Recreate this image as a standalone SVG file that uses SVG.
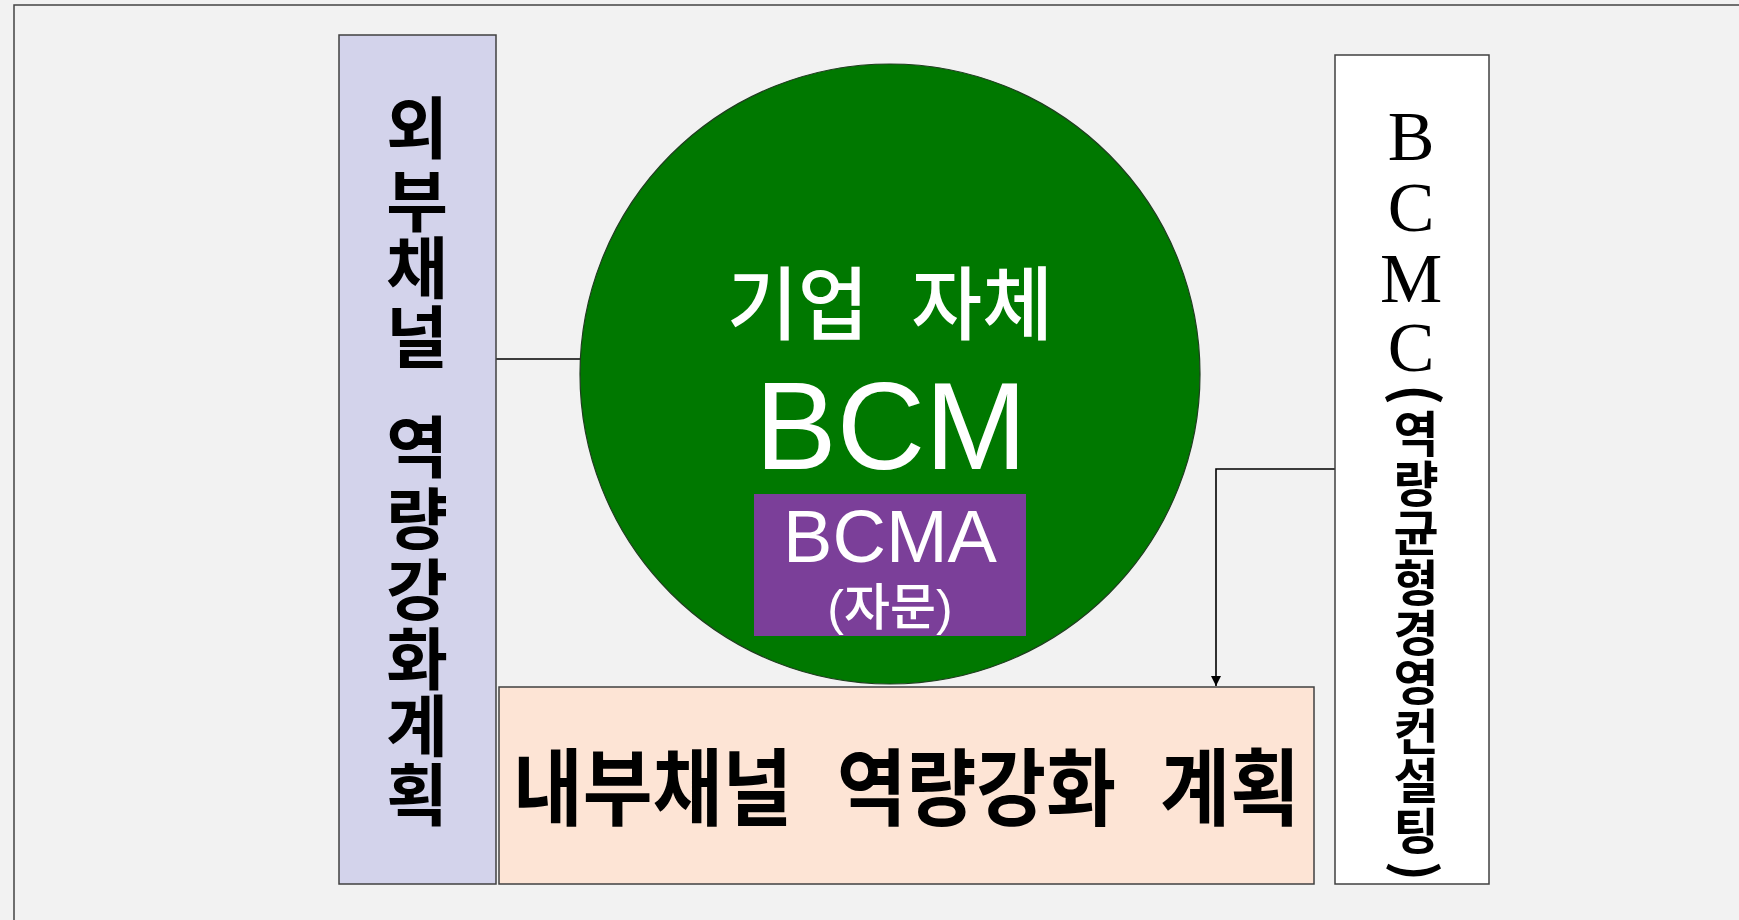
<svg xmlns="http://www.w3.org/2000/svg" width="1739" height="920" viewBox="0 0 1739 920">
<style>
.box{stroke:#404040;stroke-width:1.5}
.conn{fill:none;stroke:#000;stroke-width:1.6}
.kb{font-family:"Noto Sans CJK KR",sans-serif;font-weight:700;fill:#000}
.wt{font-family:"Liberation Sans","Noto Sans CJK KR",sans-serif;fill:#fff}
.serif{font-family:"Liberation Serif","Noto Serif CJK KR",serif;font-weight:400}
</style>
<defs>
<marker id="arr" viewBox="0 0 10 10" refX="10" refY="5" markerWidth="12" markerHeight="10" markerUnits="userSpaceOnUse" orient="auto">
<path d="M0,0 L10,5 L0,10 z" fill="#000"/>
</marker>
</defs>
<rect width="1739" height="920" fill="#f2f2f2"/>
<path d="M14,920 V5 H1739" fill="none" stroke="#444" stroke-width="1.5"/>

<g id="connectors">
<line class="conn" x1="496" y1="359" x2="582" y2="359"/>
<path class="conn" d="M1335,469 H1216 V686" marker-end="url(#arr)"/>
</g>

<g id="node-external">
<rect class="box" x="339" y="35" width="157" height="849" fill="#d3d3eb"/>
<text class="kb" font-size="67" text-anchor="middle" x="417 417 417 417 417 417 417 417 417 417 417" y="153 226 293 362 400 472 544 615 684 751 820">외부채널 역량강화계획</text>
</g>

<g id="node-bcm">
<circle cx="890" cy="374" r="310" fill="#007800" stroke="#1f3d1f" stroke-width="1.2"/>
<text class="wt" x="890" y="333" font-size="80" font-weight="500" text-anchor="middle" style="word-spacing:22px" textLength="326" lengthAdjust="spacingAndGlyphs">기업 자체</text>
<text class="wt" x="891" y="469" font-size="124" text-anchor="middle" textLength="272" lengthAdjust="spacingAndGlyphs">BCM</text>
</g>

<g id="node-bcma">
<rect x="754" y="494" width="272" height="142" fill="#7b3f99"/>
<text class="wt" x="890" y="562" font-size="74" text-anchor="middle">BCMA</text>
<text class="wt" x="890" y="625" font-size="50" font-weight="500" text-anchor="middle">(자문)</text>
</g>

<g id="node-internal">
<rect class="box" x="499" y="687" width="815" height="197" fill="#fde4d5"/>
<text class="kb" x="906.5" y="819" font-size="84" text-anchor="middle" style="word-spacing:30px" textLength="787" lengthAdjust="spacingAndGlyphs">내부채널 역량강화 계획</text>
</g>

<g id="node-bcmc">
<rect class="box" x="1335" y="55" width="154" height="829" fill="#ffffff"/>
<text font-size="49" text-anchor="middle" x="1411 1411 1411 1411 1407 1416 1416 1416 1416 1416 1416 1416 1416 1416 1407" y="160 231 302 371 384 452 502 551 601 651 700 750 799 849 861" rotate="0 0 0 0 90 0 0 0 0 0 0 0 0 0 90"><tspan class="serif" font-size="70">BCMC</tspan><tspan class="kb"><tspan font-size="56">(</tspan>역량균형경영컨설팅<tspan font-size="53">)</tspan></tspan></text>
</g>
</svg>
